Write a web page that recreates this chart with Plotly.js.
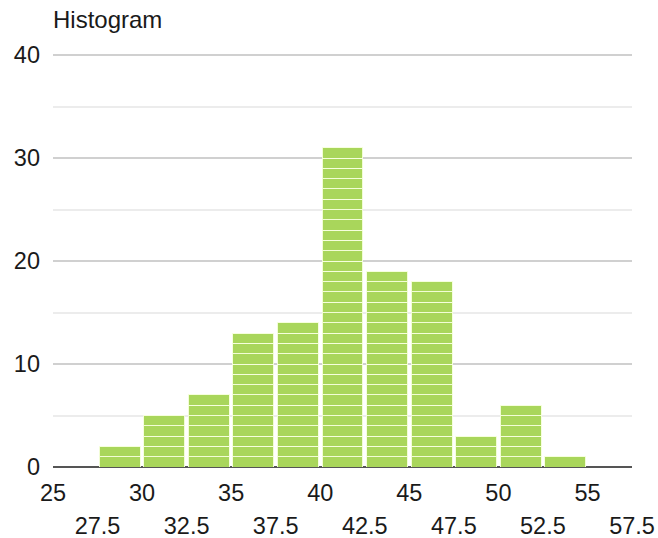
<!DOCTYPE html>
<html>
<head>
<meta charset="utf-8">
<script src="https://cdn.plot.ly/plotly-3.0.1.min.js"></script>
<style>html,body{margin:0;padding:0;background:#fff;}#chart{width:658px;height:538px;}</style>
</head>
<body>
<div id="chart"></div>
<script>
// Bin centres (width 2.5) and counts
const binCenters = [28.75, 31.25, 33.75, 36.25, 38.75, 41.25, 43.75, 46.25, 48.75, 51.25, 53.75];
const counts =     [2,     5,     7,     13,    14,    31,    19,    18,    3,     6,     1];
const ticksRow1 = [25, 30, 35, 40, 45, 50, 55];
const ticksRow2 = [27.5, 32.5, 37.5, 42.5, 47.5, 52.5, 57.5];
const yTicks = [0, 10, 20, 30, 40];

const maxCount = Math.max(...counts);
const traces = [];
for (let k = 1; k <= maxCount; k++) {
  traces.push({
    type: 'bar',
    x: binCenters,
    y: counts.map(c => (c >= k ? 1 : 0)),
    width: 2.5 * 0.92,
    marker: {color: '#a9d65b', line: {color: 'rgba(246,255,220,0.95)', width: 1}},
    showlegend: false,
    hoverinfo: 'skip'
  });
}
// invisible trace for the second row of x tick labels
traces.push({x: [25, 57.5], y: [0, 0], xaxis: 'x2', mode: 'markers', marker: {opacity: 0}, showlegend: false, hoverinfo: 'skip'});

const font = {family: 'Liberation Sans, Arial, sans-serif', size: 23.5, color: '#1a1a1a'};
const layout = {
  width: 658, height: 538,
  margin: {l: 53, r: 26, t: 53, b: 71},
  paper_bgcolor: '#fff', plot_bgcolor: '#fff',
  barmode: 'stack',
  font: font,
  title: {text: 'Histogram', x: 0, xref: 'paper', xanchor: 'left', y: 0.963, yanchor: 'middle', yref: 'container', font: {family: font.family, size: 24, color: '#1a1a1a'}},
  xaxis: {
    range: [25, 57.5], tickvals: ticksRow1, ticktext: ticksRow1.map(String),
    showgrid: false, zeroline: false, showline: false, ticks: '', ticklabelstandoff: 9,
    tickfont: font, fixedrange: true
  },
  xaxis2: {
    range: [25, 57.5], overlaying: 'x', anchor: 'y', side: 'bottom',
    tickvals: ticksRow2, ticktext: ticksRow2.map(String),
    showgrid: false, zeroline: false, showline: false, ticks: '', ticklabelstandoff: 42,
    tickfont: font, fixedrange: true
  },
  yaxis: {
    range: [0, 40.2], tickvals: yTicks, ticktext: yTicks.map(String),
    showgrid: true, gridcolor: '#d0d0d0', gridwidth: 2,
    minor: {dtick: 5, tick0: 0, showgrid: true, gridcolor: '#ececec', gridwidth: 2},
    zeroline: true, zerolinecolor: '#555', zerolinewidth: 2,
    showline: false, ticks: '', ticklabelstandoff: 12, tickfont: font, fixedrange: true
  }
};
Plotly.newPlot('chart', traces, layout, {displayModeBar: false, staticPlot: true});
</script>
</body>
</html>
